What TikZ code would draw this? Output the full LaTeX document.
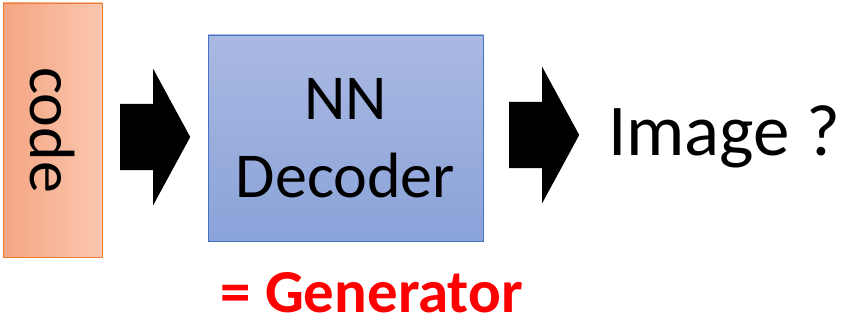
\documentclass[tikz,border=0pt]{standalone}
\usepackage{fontspec}
\setmainfont{Carlito}
\usetikzlibrary{positioning,shapes.arrows}
\definecolor{codeleft}{HTML}{F5A582}
\definecolor{coderight}{HTML}{F9C6AE}
\definecolor{codeline}{HTML}{ED7D31}
\definecolor{nntop}{HTML}{AAB9E2}
\definecolor{nnbottom}{HTML}{8AA3D9}
\definecolor{nnline}{HTML}{4472C4}
\definecolor{genred}{HTML}{FF0000}
\tikzset{blockarrow/.style={single arrow,fill=black,inner sep=0pt,minimum height=70pt,
 single arrow head extend=35pt,single arrow tip angle=123,shape border rotate=0,anchor=tail}}

\begin{document}
\begin{tikzpicture}[x=1pt,y=-1pt]
\useasboundingbox (0,0) rectangle (842,321);
\node[draw=codeline,left color=codeleft,right color=coderight,minimum width=99pt,minimum height=254pt,
 inner sep=0pt] (code) at (52.5,130) {};
\node[rotate=-90,font=\fontsize{64}{70}\selectfont] at (code.center) {code};
\node[blockarrow] (arrA) at (120,137) {\rule{0pt}{66pt}};
\node[draw=nnline,top color=nntop,bottom color=nnbottom,minimum width=275pt,minimum height=206pt,
 inner sep=0pt,align=center,font=\fontsize{64}{78}\selectfont] (nn) at (345.5,138) {NN\\Decoder};
\node[blockarrow] (arrB) at (509,135) {\rule{0pt}{66pt}};
\node[anchor=west,inner sep=0pt,font=\fontsize{73}{80}\selectfont] (img) at (608,137) {Image ?};
\node[anchor=base,inner sep=0pt,text=genred,font=\bfseries\fontsize{61}{66}\selectfont] (gen) at (372,312) {= Generator};
\end{tikzpicture}
\end{document}
